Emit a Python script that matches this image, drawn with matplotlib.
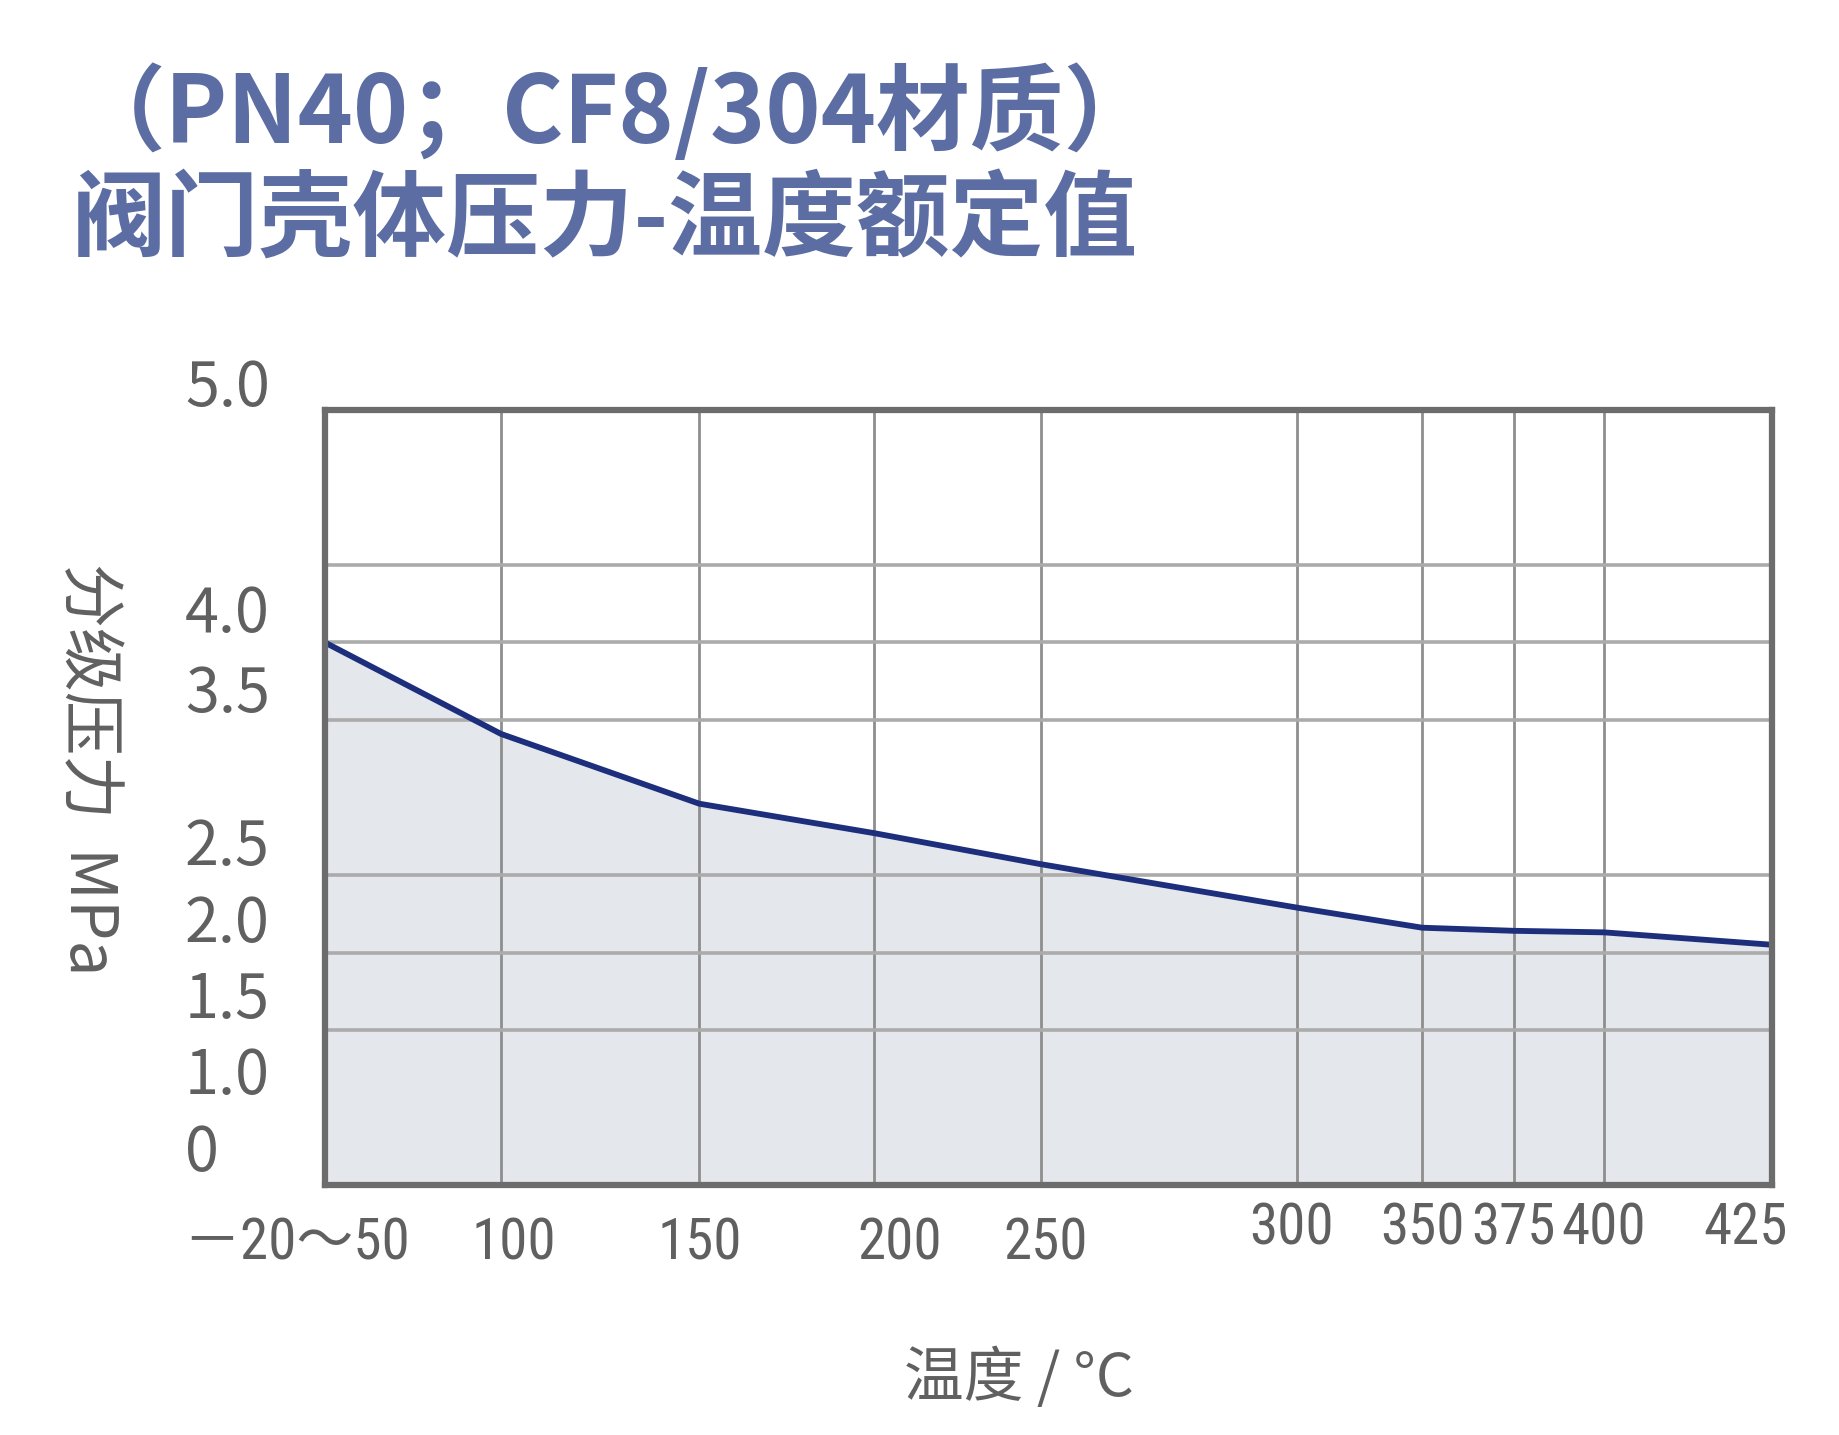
import numpy as np
import matplotlib.pyplot as plt
from matplotlib import font_manager
from matplotlib.transforms import ScaledTranslation

plt.rcParams['font.family'] = ['Noto Sans CJK SC', 'DejaVu Sans']

# 数据：温度 (°C) 与 分级压力 (MPa)
temps = [50, 100, 150, 200, 250, 300, 350, 375, 400, 425]
pressure = [3.50, 2.91, 2.46, 2.27, 2.07, 1.79, 1.66, 1.64, 1.63, 1.55]

x_labels = ['－20～50', '100', '150', '200', '250', '300', '350', '375', '400', '425']
y_labels = ['5.0', '4.0', '3.5', '2.5', '2.0', '1.5', '1.0', '0']

# 网格线
grid_y = [1.0, 1.5, 2.0, 3.0, 3.5, 4.0]

# 原图横轴不是等距的：温度 -> 轴内位置 (0~1)
axis_pos = [0.0, 0.1217, 0.2587, 0.3796, 0.4947, 0.6715, 0.7583, 0.8216, 0.884, 1.0]


def fwd(t):
    return np.interp(t, temps, axis_pos)


def inv(p):
    return np.interp(p, axis_pos, temps)


# 刻度标签的位置微调 (像素)
x_dx = [-28, 13, 0, 25, 5, -5, 0, 0, 0, -26]
x_dy = [-59, -59, -59, -59, -59, -44, -44, -44, -44, -44]
y_label_pos = [5.14, 3.676, 3.162, 2.179, 1.679, 1.188, 0.696, 0.204]

# x 刻度用窄字体（有就用）
installed = {f.name for f in font_manager.fontManager.ttflist}
narrow = [n for n in ['Roboto Condensed', 'Open Sans Condensed', 'Liberation Sans Narrow']
          if n in installed]
if narrow:
    x_family = [narrow[0], 'Noto Sans CJK SC', 'DejaVu Sans']
    x_size = 41
else:
    x_family = ['Noto Sans CJK SC', 'DejaVu Sans']
    x_size = 36

title_color = '#5b6da2'
text_color = '#606060'

fig = plt.figure(figsize=(18.4, 14.35), dpi=100)
ax = fig.add_axes([0.1766, 0.1742, 0.7864, 0.5401])
ax.set_xscale('function', functions=(fwd, inv))
ax.set_xlim(50, 425)
ax.set_ylim(0, 5)

ax.fill_between(temps, pressure, 0, color='#e4e7eb', zorder=1, lw=0)
for t in temps[1:-1]:
    ax.axvline(t, color='#8e8e8e', lw=2.0, zorder=2)
for g in grid_y:
    ax.axhline(g, color='#ababab', lw=2.6, zorder=2)
ax.plot(temps, pressure, color='#1d2f7c', lw=4.2, zorder=3,
        solid_capstyle='butt', solid_joinstyle='round')

for s in ax.spines.values():
    s.set_color('#6c6c6c')
    s.set_linewidth(4.5)
    s.set_zorder(4)
ax.set_xticks([])
ax.set_yticks([])

# x 刻度标签
for t, lab, dx, dy in zip(temps, x_labels, x_dx, x_dy):
    tr = ax.get_xaxis_transform() + ScaledTranslation(dx / 100, dy / 100, fig.dpi_scale_trans)
    ax.text(t, 0, lab, transform=tr, ha='center', va='center', fontsize=x_size,
            family=x_family, color=text_color, clip_on=False)

# y 刻度标签
for yp, lab in zip(y_label_pos, y_labels):
    ax.text(-0.0968, yp, lab, transform=ax.get_yaxis_transform(), ha='left', va='center',
            fontsize=44, color=text_color, clip_on=False)

# 坐标轴标题
fig.text(88 / 1840, 1 - 769 / 1435, '分级压力  MPa', rotation=270, ha='center', va='center',
         fontsize=46, color=text_color)
fig.text(1019 / 1840, 1 - 1379 / 1435, '温度 / °C', ha='center', va='center',
         fontsize=43, color=text_color)

# 标题
fig.text(72 / 1840, 1 - 114 / 1435, '（PN40；CF8/304材质）', ha='left', va='center',
         fontsize=67.5, fontweight='bold', color=title_color)
fig.text(72 / 1840, 1 - 221 / 1435, '阀门壳体压力-温度额定值', ha='left', va='center',
         fontsize=67.5, fontweight='bold', color=title_color)

fig.savefig('out.png', dpi=100, facecolor='white')
